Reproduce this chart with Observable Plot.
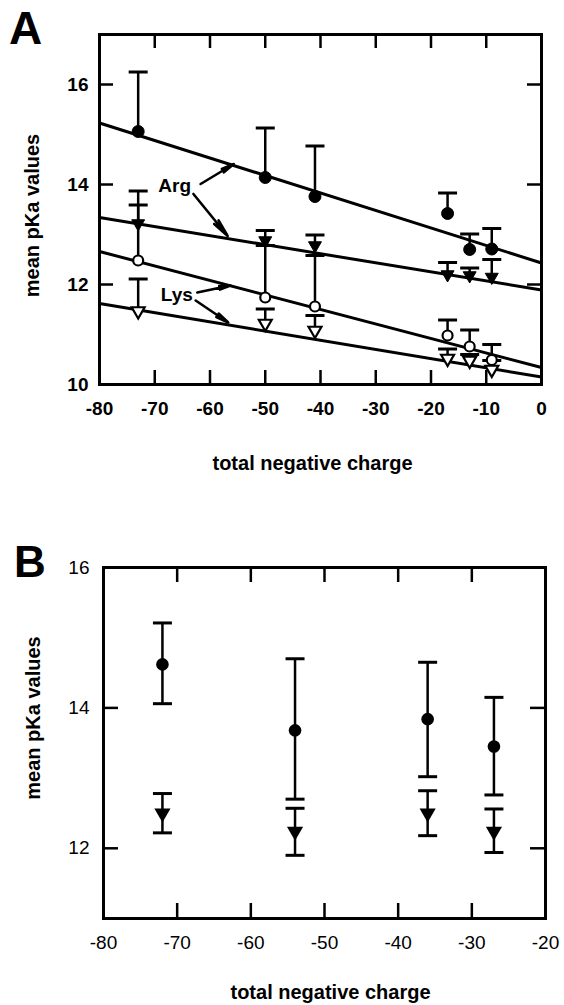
<!DOCTYPE html>
<html><head><meta charset="utf-8">
<script src="https://cdn.jsdelivr.net/npm/d3@7"></script>
<script src="https://cdn.jsdelivr.net/npm/@observablehq/plot@0.6"></script>
<style>
html,body{margin:0;padding:0;background:#fff;}
#wrap{position:relative;width:564px;height:1005px;overflow:hidden;background:#fff;}
.panel{position:absolute;left:0;}
.letter{position:absolute;font-family:"Liberation Sans",Arial,sans-serif;color:#000;line-height:1;}
</style></head><body><div id="wrap"></div>
<script>
// ---------- Panel A data ----------
const xA = [-73, -50, -41, -17, -13, -9];
const argCircle   = [15.06, 14.14, 13.76, 13.42, 12.70, 12.71];
const argCircleUp = [16.25, 15.13, 14.77, 13.83, 13.01, 13.12];
const argTri      = [13.22, 12.88, 12.78, 12.20, 12.18, 12.15];
const argTriUp    = [13.59, 13.08, 12.99, 12.44, 12.33, 12.50];
const lysCircle   = [12.48, 11.74, 11.56, 10.98, 10.76, 10.49];
const lysCircleUp = [13.87, 12.78, 12.58, 11.29, 11.09, 10.80];
const lysTri      = [11.47, 11.22, 11.08, 10.52, 10.48, 10.30];
const lysTriUp    = [12.11, 11.51, 11.38, 10.71, 10.60, 10.48];
// regression lines (value at x = -80 and at x = 0)
const lineNames = ["Arg ●", "Arg ▼", "Lys ○", "Lys ▽"];
const lineX = [-80, 0];
const lineStart = [15.23, 13.34, 12.66, 11.62];
const lineEnd   = [12.43, 11.89, 10.34, 10.15];
// annotation labels and arrows
const labelText = ["Arg", "Lys"];
const labelX = [-66.4, -66.0];
const labelY = [13.97, 11.80];
const arrowX1 = [-61.7, -63.0, -62.3, -62.6];
const arrowY1 = [14.01, 13.81, 11.84, 11.68];
const arrowX2 = [-55.7, -56.8, -56.3, -56.7];
const arrowY2 = [14.41, 12.97, 11.98, 11.24];
// axes A
const xTicksA = [-80, -70, -60, -50, -40, -30, -20, -10, 0];
const xInnerA = [-70, -60, -50, -40, -30, -20, -10];
const yTicksA = [10, 12, 14, 16];
const yInnerA = [12, 14, 16];

// ---------- Panel B data ----------
const xB = [-72, -54, -36, -27];
const circB   = [14.62, 13.68, 13.84, 13.45];
const circBLo = [14.06, 12.70, 13.02, 12.76];
const circBHi = [15.21, 14.70, 14.65, 14.15];
const triB    = [12.50, 12.24, 12.50, 12.24];
const triBLo  = [12.22, 11.90, 12.18, 11.94];
const triBHi  = [12.78, 12.57, 12.82, 12.56];
const xTicksB = [-80, -70, -60, -50, -40, -30, -20];
const xInnerB = [-70, -60, -50, -40, -30];
const yTicksB = [12, 14, 16];
const yInnerB = [12, 14];

const xTitle = "total negative charge";
const yTitle = "mean pKa values";
const FONT = '"Liberation Sans", Arial, Helvetica, sans-serif';

const capSym = {draw(ctx) { ctx.moveTo(-9.5, 0); ctx.lineTo(9.5, 0); }};
const fmt = d => String(d);

// build tables
const seriesA = [
  {name: "Arg ●", y: argCircle, up: argCircleUp, sym: "circle", fill: "black", r: 6},
  {name: "Arg ▼", y: argTri, up: argTriUp, sym: "triangle", fill: "black", r: 4.8},
  {name: "Lys ○", y: lysCircle, up: lysCircleUp, sym: "circle", fill: "white", r: 5},
  {name: "Lys ▽", y: lysTri, up: lysTriUp, sym: "triangle", fill: "white", r: 4.8}
];
const rowsA = seriesA.flatMap(s => xA.map((x, i) => ({series: s.name, x, y: s.y[i], up: s.up[i]})));
const linesA = lineNames.flatMap((n, i) => [
  {series: n, x: lineX[0], y: lineStart[i]},
  {series: n, x: lineX[1], y: lineEnd[i]}
]);
const labelsA = labelText.map((t, i) => ({t, x: labelX[i], y: labelY[i]}));
const arrowsA = arrowX1.map((_, i) => ({x1: arrowX1[i], y1: arrowY1[i], x2: arrowX2[i], y2: arrowY2[i]}));

const AH = 490, AML = 99, AMR = 23, AMT = 34, AMB = 106;
const AW = 564 - AML - AMR, AHH = AH - AMT - AMB;
const TL = 14;

const dotMarks = seriesA.map(s => Plot.dot(rowsA.filter(d => d.series === s.name), {
  x: "x", y: "y", symbol: s.sym, r: s.r, fill: s.fill, stroke: "black",
  strokeWidth: s.fill === "white" ? 2.2 : 1, rotate: s.sym === "triangle" ? 180 : 0
}));

const plotA = Plot.plot({
  width: 564, height: AH,
  marginLeft: AML, marginRight: AMR, marginTop: AMT, marginBottom: AMB,
  style: {fontFamily: FONT, fontSize: "19px", fontWeight: "bold", color: "black", background: "white"},
  x: {domain: [-80, 0], ticks: xTicksA, tickFormat: fmt},
  y: {domain: [10, 17], ticks: yTicksA, tickFormat: fmt},
  marks: [
    Plot.axisX(xTicksA, {tickSize: 0, tickPadding: 17, label: null, tickFormat: fmt, fontSize: 19, fontWeight: "bold"}),
    Plot.axisY(yTicksA, {tickSize: 0, tickPadding: 11, label: null, tickFormat: fmt, fontSize: 19, fontWeight: "bold"}),
    Plot.tickX(xInnerA, {x: d => d, insetBottom: AHH - TL, strokeWidth: 2.5}),
    Plot.tickX(xInnerA, {x: d => d, insetTop: AHH - TL, strokeWidth: 2.5}),
    Plot.tickY(yInnerA, {y: d => d, insetRight: AW - TL, strokeWidth: 2.5}),
    Plot.tickY(yInnerA, {y: d => d, insetLeft: AW - TL, strokeWidth: 2.5}),
    Plot.line(linesA, {x: "x", y: "y", z: "series", stroke: "black", strokeWidth: 3}),
    Plot.ruleX(rowsA, {x: "x", y1: "y", y2: "up", stroke: "black", strokeWidth: 2.5}),
    Plot.dot(rowsA, {x: "x", y: "up", symbol: capSym, stroke: "black", fill: "none", strokeWidth: 3}),
    ...dotMarks,
    Plot.arrow(arrowsA, {x1: "x1", y1: "y1", x2: "x2", y2: "y2", stroke: "black", strokeWidth: 2.6, headLength: 14, headAngle: 18}),
    Plot.text(labelsA, {x: "x", y: "y", text: "t", fontSize: 19, fontWeight: "bold"}),
    Plot.frame({stroke: "black", strokeWidth: 3}),
    Plot.text([xTitle], {frameAnchor: "bottom", dy: 79, dx: -8, fontSize: 20, fontWeight: "bold", textAnchor: "middle", lineAnchor: "middle"}),
    Plot.text([yTitle], {frameAnchor: "left", rotate: -90, dx: -67, dy: 6, fontSize: 20, fontWeight: "bold", textAnchor: "middle", lineAnchor: "middle"})
  ]
});

// Panel B
const rowsB = [
  ...xB.map((x, i) => ({series: "●", x, y: circB[i], lo: circBLo[i], hi: circBHi[i]})),
  ...xB.map((x, i) => ({series: "▼", x, y: triB[i], lo: triBLo[i], hi: triBHi[i]}))
];
const BH = 505, BML = 103, BMR = 19, BMT = 67, BMB = 87;
const BW = 564 - BML - BMR, BHH = BH - BMT - BMB;

const plotB = Plot.plot({
  width: 564, height: BH,
  marginLeft: BML, marginRight: BMR, marginTop: BMT, marginBottom: BMB,
  style: {fontFamily: FONT, fontSize: "19px", fontWeight: "normal", color: "black", background: "white"},
  x: {domain: [-80, -20], ticks: xTicksB, tickFormat: fmt},
  y: {domain: [11, 16], ticks: yTicksB, tickFormat: fmt},
  marks: [
    Plot.axisX(xTicksB, {tickSize: 0, tickPadding: 17, label: null, tickFormat: fmt, fontSize: 19}),
    Plot.axisY(yTicksB, {tickSize: 0, tickPadding: 14, label: null, tickFormat: fmt, fontSize: 19}),
    Plot.tickX(xInnerB, {x: d => d, insetBottom: BHH - 15, strokeWidth: 2.5}),
    Plot.tickX(xInnerB, {x: d => d, insetTop: BHH - 15, strokeWidth: 2.5}),
    Plot.tickY(yInnerB, {y: d => d, insetRight: BW - 15, strokeWidth: 2.5}),
    Plot.tickY(yInnerB, {y: d => d, insetLeft: BW - 15, strokeWidth: 2.5}),
    Plot.ruleX(rowsB, {x: "x", y1: "lo", y2: "hi", stroke: "black", strokeWidth: 2.5}),
    Plot.dot(rowsB, {x: "x", y: "lo", symbol: capSym, stroke: "black", fill: "none", strokeWidth: 3}),
    Plot.dot(rowsB, {x: "x", y: "hi", symbol: capSym, stroke: "black", fill: "none", strokeWidth: 3}),
    Plot.dot(rowsB.filter(d => d.series === "●"), {x: "x", y: "y", symbol: "circle", r: 6.3, fill: "black"}),
    Plot.dot(rowsB.filter(d => d.series === "▼"), {x: "x", y: "y", symbol: "triangle", r: 6, fill: "black", rotate: 180}),
    Plot.frame({stroke: "black", strokeWidth: 3}),
    Plot.text([xTitle], {frameAnchor: "bottom", dy: 74, dx: 6, fontSize: 20, fontWeight: "bold", textAnchor: "middle", lineAnchor: "middle"}),
    Plot.text([yTitle], {frameAnchor: "left", rotate: -90, dx: -70, dy: -25, fontSize: 20, fontWeight: "bold", textAnchor: "middle", lineAnchor: "middle"})
  ]
});

const wrap = document.getElementById("wrap");
plotA.classList.add("panel"); plotA.style.top = "0px";
plotB.classList.add("panel"); plotB.style.top = "500px";
wrap.appendChild(plotA);
wrap.appendChild(plotB);
const la = document.createElement("div");
la.className = "letter"; la.textContent = "A";
la.style.cssText += "left:9px;top:5px;font-size:46px;font-weight:bold;";
wrap.appendChild(la);
const lb = document.createElement("div");
lb.className = "letter"; lb.textContent = "B";
lb.style.cssText += "left:14px;top:540px;font-size:44px;font-weight:bold;";
wrap.appendChild(lb);
</script></body></html>
